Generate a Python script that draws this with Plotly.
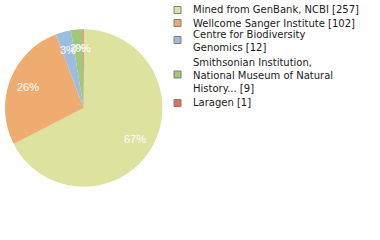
import math
import plotly.graph_objects as go

labels = ["Mined from GenBank, NCBI", "Wellcome Sanger Institute",
          "Centre for Biodiversity Genomics",
          "Smithsonian Institution, National Museum of Natural History...",
          "Laragen"]
legend_lines = [["Mined from GenBank, NCBI [257]"],
                ["Wellcome Sanger Institute [102]"],
                ["Centre for Biodiversity", "Genomics [12]"],
                ["Smithsonian Institution,", "National Museum of Natural", "History... [9]"],
                ["Laragen [1]"]]
values = [257, 102, 12, 9, 1]
colors = ["#dde29f", "#efac70", "#9dbde0", "#9fc878", "#e07058"]

total = sum(values)
pct_text = [f"{math.floor(v * 100 / total)}%" for v in values]

W, H = 380, 240
pie_x = [5 / W, 162.4 / W]
pie_y = [1 - 186.7 / H, 1 - 29.3 / H]

fig = go.Figure()
fig.add_trace(go.Pie(
    labels=labels, values=values, textinfo="none",
    sort=False, direction="clockwise", rotation=0,
    marker=dict(colors=colors, line=dict(width=0)),
    hoverinfo="label+value", showlegend=False,
    domain=dict(x=pie_x, y=pie_y),
))

annots = []
# percentage labels at 0.76 of the radius, on each slice's mid-angle
cx_px = (pie_x[0] + pie_x[1]) / 2 * W
cy_px = (1 - (pie_y[0] + pie_y[1]) / 2) * H
R = (pie_x[1] - pie_x[0]) * W / 2
cum = 0
for v, t in zip(values, pct_text):
    a = math.radians((cum + v / 2) / total * 360)
    cum += v
    px = cx_px + 0.76 * R * math.sin(a)
    py = cy_px - 0.76 * R * math.cos(a)
    annots.append(dict(xref="paper", yref="paper", x=px / W, y=1 - py / H,
                       xanchor="center", yanchor="middle", showarrow=False, text=t,
                       font=dict(family="Liberation Sans", size=11, color="white")))

# legend drawn as shapes + text (layout positions in px from top)
line_top = [10, 23, 35, 63, 102]
square_c = [10, 23, 40, 74.5, 103]
line_h = 12.7
shapes = []
for lines, col, ty, sy in zip(legend_lines, colors, line_top, square_c):
    n = len(lines)
    cy = ty + (n - 1) * line_h / 2
    shapes.append(dict(type="rect", xref="paper", yref="paper",
                       x0=174 / W, x1=181 / W, y0=1 - (sy + 3.5) / H, y1=1 - (sy - 3.5) / H,
                       fillcolor=col, line=dict(color="#7f7f7f", width=1)))
    annots.append(dict(xref="paper", yref="paper", x=191 / W, y=1 - cy / H,
                       xanchor="left", yanchor="middle", showarrow=False, align="left",
                       text="<br>".join(lines),
                       font=dict(family="DejaVu Sans", size=10, color="#1a1a1a")))

fig.update_layout(
    width=W, height=H, margin=dict(l=0, r=0, t=0, b=0),
    paper_bgcolor="white", plot_bgcolor="white",
    shapes=shapes, annotations=annots,
)
fig.write_html("out.html")
